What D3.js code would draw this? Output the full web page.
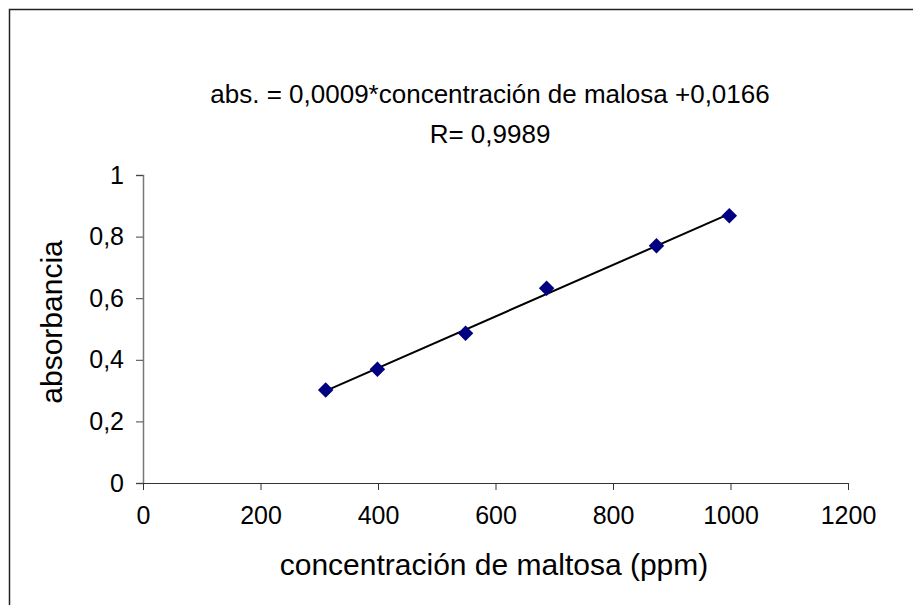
<!DOCTYPE html>
<html>
<head>
<meta charset="utf-8">
<script src="https://cdn.jsdelivr.net/npm/d3@7"></script>
<style>
  body { margin: 0; background: #fff; }
  text { font-family: "Liberation Sans", Arial, sans-serif; fill: #000; }
</style>
</head>
<body>
<div id="chart"></div>
<script>
// data
var concentracion = [311, 399, 549, 687, 874, 998];
var absorbancia = [0.302, 0.369, 0.486, 0.632, 0.770, 0.868];
var xTicks = [0, 200, 400, 600, 800, 1000, 1200];
var yTicks = [0, 0.2, 0.4, 0.6, 0.8, 1];
var titleLines = ['abs. = 0,0009*concentración de malosa +0,0166', 'R= 0,9989'];

var width = 913;
var height = 605;

var svg = d3.select('#chart')
    .append('svg')
    .attr('width', width)
    .attr('height', height);

svg.append('rect')
    .attr('x', 9.5)
    .attr('y', 9.5)
    .attr('width', 1000)
    .attr('height', 1000)
    .attr('fill', '#fff')
    .attr('stroke', '#222')
    .attr('stroke-width', 1.5);

var x = d3.scaleLinear().domain([0, 1200]).range([143, 848]);
var y = d3.scaleLinear().domain([0, 1]).range([483, 175]);

var fmt = function(d){ return String(d).replace('.', ','); };

// y axis
var yAxis = svg.append('g')
    .attr('transform', 'translate(' + x(0) + ',0)')
    .call(d3.axisLeft(y).tickValues(yTicks).tickSize(7).tickPadding(12).tickFormat(fmt));
yAxis.select('.domain').attr('stroke', '#777').attr('stroke-width', 1.5);
yAxis.selectAll('.tick line').attr('stroke', '#444');
yAxis.selectAll('text').style('font-size', '25px');

// x axis
var xAxis = svg.append('g')
    .attr('transform', 'translate(0,' + y(0) + ')')
    .call(d3.axisBottom(x).tickValues(xTicks).tickSize(7).tickPadding(16).tickFormat(fmt));
xAxis.select('.domain').attr('stroke', '#333');
xAxis.selectAll('.tick line').attr('stroke', '#333');
xAxis.selectAll('text').style('font-size', '25px');

// trend line (least squares through the points)
var mx = d3.mean(concentracion), my = d3.mean(absorbancia);
var sxy = d3.sum(concentracion, function(d, i){ return (d - mx) * (absorbancia[i] - my); });
var sxx = d3.sum(concentracion, function(d){ return (d - mx) * (d - mx); });
var slope = sxy / sxx;
var icpt = my - slope * mx;
var ext = d3.extent(concentracion);

svg.append('path')
    .datum(ext)
    .attr('d', d3.line()
        .x(function(d){ return x(d); })
        .y(function(d){ return y(slope * d + icpt); }))
    .attr('stroke', '#000')
    .attr('stroke-width', 2)
    .attr('fill', 'none');

// markers
svg.selectAll('.pt')
    .data(concentracion)
    .enter()
    .append('path')
    .attr('class', 'pt')
    .attr('d', d3.symbol().type(d3.symbolSquare).size(120))
    .attr('transform', function(d, i){
        return 'translate(' + x(d) + ',' + y(absorbancia[i]) + ') rotate(45)';
    })
    .attr('fill', '#000080');

// equation text
svg.selectAll('.title')
    .data(titleLines)
    .enter()
    .append('text')
    .attr('class', 'title')
    .attr('x', 490)
    .attr('y', function(d, i){ return 103 + i * 40; })
    .attr('text-anchor', 'middle')
    .style('font-size', '26px')
    .text(function(d){ return d; });

svg.append('text')
    .attr('x', 494)
    .attr('y', 575)
    .attr('text-anchor', 'middle')
    .style('font-size', '30px')
    .text('concentración de maltosa (ppm)');

svg.append('text')
    .attr('transform', 'translate(62,322) rotate(-90)')
    .attr('text-anchor', 'middle')
    .style('font-size', '30px')
    .text('absorbancia');
</script>
</body>
</html>
